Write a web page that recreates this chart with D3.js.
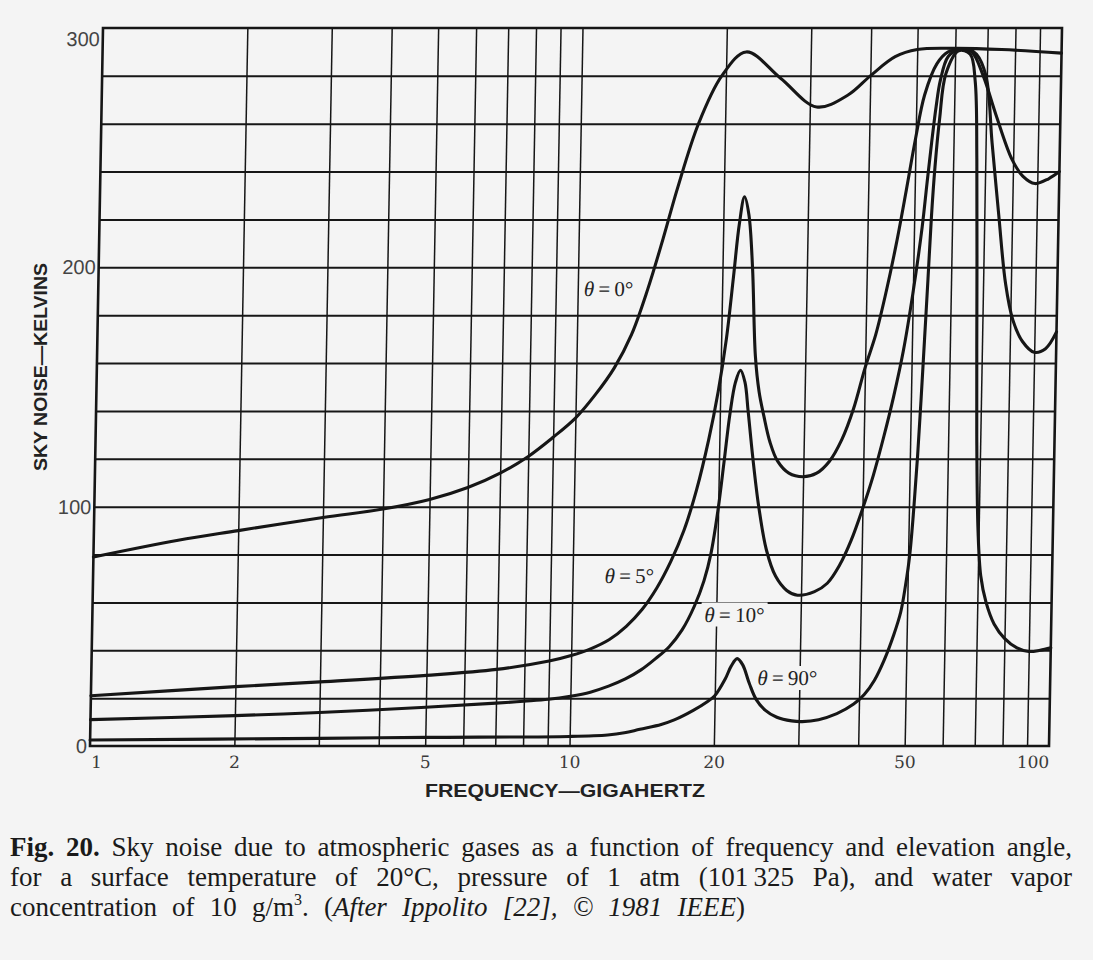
<!DOCTYPE html>
<html><head><meta charset="utf-8">
<script src="https://cdn.jsdelivr.net/npm/d3@7"></script>
<style>body{margin:0;background:#f4f4f4;} svg{display:block}</style>
</head><body>
<svg id="c" width="1093" height="960"></svg>
<script>
// ---- data ----
const xTickValues = [1, 2, 5, 10, 20, 50, 100];
const xTickLabels = ["1", "2", "5", "10", "20", "50", "100"];
const xGridValues = [2, 3, 4, 5, 6, 7, 8, 9, 10, 20, 30, 40, 50, 60, 70, 80, 90];
const yTickValues = [0, 100, 200, 300];
const yGridValues = [20, 40, 60, 80, 100, 120, 140, 160, 180, 200, 220, 240, 260, 280];
const seriesNames = ["θ = 0°", "θ = 5°", "θ = 10°", "θ = 90°"];
// [frequency GHz, sky noise K]
const sky0 = [[1,79],[1.5,86],[2,90],[3,95.5],[4,99],[5,103],[6,108],[7,114],[8,121],[9,129],[10,137],[11,147],[12,158],[13,172],[14,191],[15,212],[16,233],[17.6,260],[19.6,280],[22,290],[26,279],[31,267],[36,272],[40,280],[45,288],[50,291],[60,291.5],[75,291],[100,289.5]];
const sky5 = [[1,21],[2,24.8],[3,26.8],[5,29.5],[7,32],[9,35.5],[10,37.8],[11,40.7],[12,44.5],[13,50],[14,57],[15,66],[16,77],[17,90],[18,107],[19,128],[19.8,148],[20.5,170],[21.1,196],[21.6,218],[22.1,229.5],[22.6,222],[23.1,200],[23.6,163],[24.1,148],[24.7,138],[25.5,127],[26.5,119],[28,114],[30,112.5],[32,114],[34,119],[36,128],[38,141],[40,158],[42,172],[44,190],[46,210],[48,232],[50,254],[52,272],[55,285],[58,290],[62,291],[65,290],[68.8,280],[73.3,264],[79.6,245],[84,238],[89,235],[95,237],[100,240]];
const sky10 = [[1,11],[2,12.7],[3,14],[5,16.2],[7,17.9],[8,18.7],[9,19.5],[10,20.8],[11,22.5],[12,25],[13,28],[14,31.8],[15,36.5],[16,41.5],[17,48.5],[18,58.5],[18.8,69],[19.4,80.5],[20,99],[20.5,119],[21,139],[21.5,152],[22,157],[22.5,152],[22.9,140],[23.5,121],[24.3,100],[25.3,82],[26.5,71],[28,65],[29.5,63],[32,64.5],[34,68],[36,75.5],[38,86],[40,99],[42,113],[44,129],[46,146],[48,165],[50,189],[52,217],[53,235],[54,252],[55,267],[56,278],[58,288],[61,291],[64,291],[66.5,289],[69.7,280],[72.2,252],[75,222],[78,193],[81,178],[85,169],[90,164.5],[95,166],[100,173]];
const sky90 = [[1,2.5],[3,3.2],[5,3.6],[10,4],[12,4.6],[13,5.5],[14,7],[15.5,9],[16.5,10.9],[18.1,15],[19.3,18.5],[20,21],[21,28],[21.6,33.5],[22.2,36.5],[22.8,34],[23.6,26],[24.4,19.5],[25.5,15],[27,12],[29,10.5],[30.5,10.2],[33,11],[36,13.5],[39,17.5],[41,21.5],[43,27.5],[45,36],[47,46.5],[48.5,56],[49.5,67],[50.4,80],[51.2,100],[51.9,122],[52.5,145],[53.1,170],[53.7,195],[54.3,221],[55,242],[56,262],[57.5,281],[61,290.5],[64.5,289],[66.2,278],[67.2,245],[68,190],[68.8,130],[69.8,90],[71,71],[73,60],[76,51],[80,45],[85,41],[90,39.5],[95,40],[100,41]];
const series = [sky0, sky5, sky10, sky90];
const labelAnchors = [[10.3,188],[11.66,68],[18.9,52],[24.5,25.5]];
const labelBoxed = [false, false, true, true];

// ---- layout ----
const W = 1093, H = 960;
const m = {left: 90, right: 1049, top: 28, bottom: 746};
const x = d3.scaleLog().domain([1, 100]).range([m.left, m.right]);
const y = d3.scaleLinear().domain([0, 300]).range([m.bottom, m.top]);
const BG = "#f4f4f4", INK = "#161616";
const skew = Math.atan(-13 / 718) * 180 / Math.PI;

const svg = d3.select("#c");
svg.append("rect").attr("width", W).attr("height", H).attr("fill", BG);

const plot = svg.append("g")
  .attr("transform", `translate(0,${m.bottom}) skewX(${skew}) translate(0,${-m.bottom})`);

// vertical grid
plot.append("g").attr("transform", `translate(0,${m.bottom})`)
  .call(d3.axisBottom(x).tickValues(xGridValues).tickSize(-(m.bottom - m.top)).tickFormat(""))
  .call(g => g.select(".domain").remove())
  .call(g => g.selectAll("line").attr("stroke", INK).attr("stroke-width", 1.5));
// horizontal grid
plot.append("g").attr("transform", `translate(${m.left},0)`)
  .call(d3.axisLeft(y).tickValues(yGridValues).tickSize(-(m.right - m.left)).tickFormat(""))
  .call(g => g.select(".domain").remove())
  .call(g => g.selectAll("line").attr("stroke", INK).attr("stroke-width", 2));
// frame
plot.append("rect").attr("x", m.left).attr("y", m.top)
  .attr("width", m.right - m.left).attr("height", m.bottom - m.top)
  .attr("fill", "none").attr("stroke", INK).attr("stroke-width", 2.6);

// x tick labels
const xa = plot.append("g").attr("transform", `translate(0,${m.bottom})`)
  .call(d3.axisBottom(x).tickValues(xTickValues).tickSize(0).tickPadding(10)
    .tickFormat((d, i) => xTickLabels[i]));
xa.select(".domain").remove();
xa.selectAll("text").attr("font-family", "DejaVu Serif").attr("font-size", 17)
  .attr("fill", "#3a3a3a").attr("font-weight", 300)
  .attr("text-anchor", (d, i) => i === 0 ? "start" : (i === xTickValues.length - 1 ? "end" : "middle"))
  .attr("dx", (d, i) => i === 0 ? 1 : 0);

// y tick labels
const ya = plot.append("g").attr("transform", `translate(${m.left},0)`)
  .call(d3.axisLeft(y).tickValues(yTickValues).tickSize(0).tickPadding(3));
ya.select(".domain").remove();
ya.selectAll("text").attr("font-family", "Liberation Sans").attr("font-size", 20)
  .attr("fill", "#444").attr("dy", d => d === 300 ? "0.85em" : "0.32em");

// curves
const line = d3.line().x(d => x(d[0])).y(d => y(d[1])).curve(d3.curveCatmullRom.alpha(0.5));
plot.append("g").selectAll("path").data(series).join("path")
  .attr("d", line).attr("fill", "none").attr("stroke", INK)
  .attr("stroke-width", 3.1).attr("stroke-linejoin", "round").attr("stroke-linecap", "round");

// curve labels
const labG = plot.append("g");
seriesNames.forEach((name, i) => {
  const [f, t] = labelAnchors[i];
  const g = labG.append("g");
  const txt = g.append("text").attr("x", x(f)).attr("y", y(t))
    .attr("font-family", "Liberation Serif").attr("font-size", 21).attr("fill", "#222");
  const parts = name.split(" = ");
  txt.append("tspan").attr("font-style", "italic").text(parts[0]);
  txt.append("tspan").text("\u2009=\u2009" + parts[1]);
  if (labelBoxed[i]) {
    const bb = txt.node().getBBox();
    g.insert("rect", "text").attr("x", bb.x - 3).attr("y", bb.y)
      .attr("width", bb.width + 6).attr("height", bb.height).attr("fill", BG);
  }
});

// axis titles
svg.append("text").attr("x", 565).attr("y", 797).attr("text-anchor", "middle")
  .attr("font-family", "Liberation Sans").attr("font-weight", "bold").attr("font-size", 19)
  .attr("fill", "#222").attr("textLength", 280).attr("lengthAdjust", "spacingAndGlyphs")
  .text("FREQUENCY\u2014GIGAHERTZ");
svg.append("text").attr("transform", "translate(47,367) rotate(-90)").attr("text-anchor", "middle")
  .attr("font-family", "Liberation Sans").attr("font-weight", "bold").attr("font-size", 19)
  .attr("fill", "#222").attr("textLength", 208).attr("lengthAdjust", "spacingAndGlyphs")
  .text("SKY NOISE\u2014KELVINS");

// caption
const captionLines = [
  [{t: "Fig. 20.", b: true}, {t: " Sky noise due to atmospheric gases as a function of frequency and elevation angle,"}],
  [{t: "for a surface temperature of 20°C, pressure of 1 atm (101\u2009325 Pa), and water vapor"}],
  [{t: "concentration of 10 g/m"}, {t: "3", sup: true}, {t: ". ("}, {t: "After Ippolito [22], \u00A9 1981 IEEE", i: true}, {t: ")"}]
];
const capX = 10, capTargets = [1062, 1062, 735], capY = [856, 886, 916];
captionLines.forEach((parts, li) => {
  const txt = svg.append("text").attr("x", capX).attr("y", capY[li])
    .attr("font-family", "Liberation Serif").attr("font-size", 27).attr("fill", "#1a1a1a");
  parts.forEach((p, k) => {
    const ts = txt.append("tspan").text(p.t);
    if (p.b) ts.attr("font-weight", "bold");
    if (p.i) ts.attr("font-style", "italic");
    if (p.sup) ts.attr("font-size", 16).attr("dy", -11);
    if (k > 0 && parts[k - 1].sup) ts.attr("dy", 11);
  });
  const len = txt.node().getComputedTextLength();
  const target = capTargets[li];
  if (len > target) {
    txt.attr("textLength", target).attr("lengthAdjust", "spacingAndGlyphs");
  } else {
    const spaces = parts.map(p => p.t).join("").split(" ").length - 1;
    txt.attr("word-spacing", ((target - len) / spaces).toFixed(2));
  }
});
</script>
</body></html>
